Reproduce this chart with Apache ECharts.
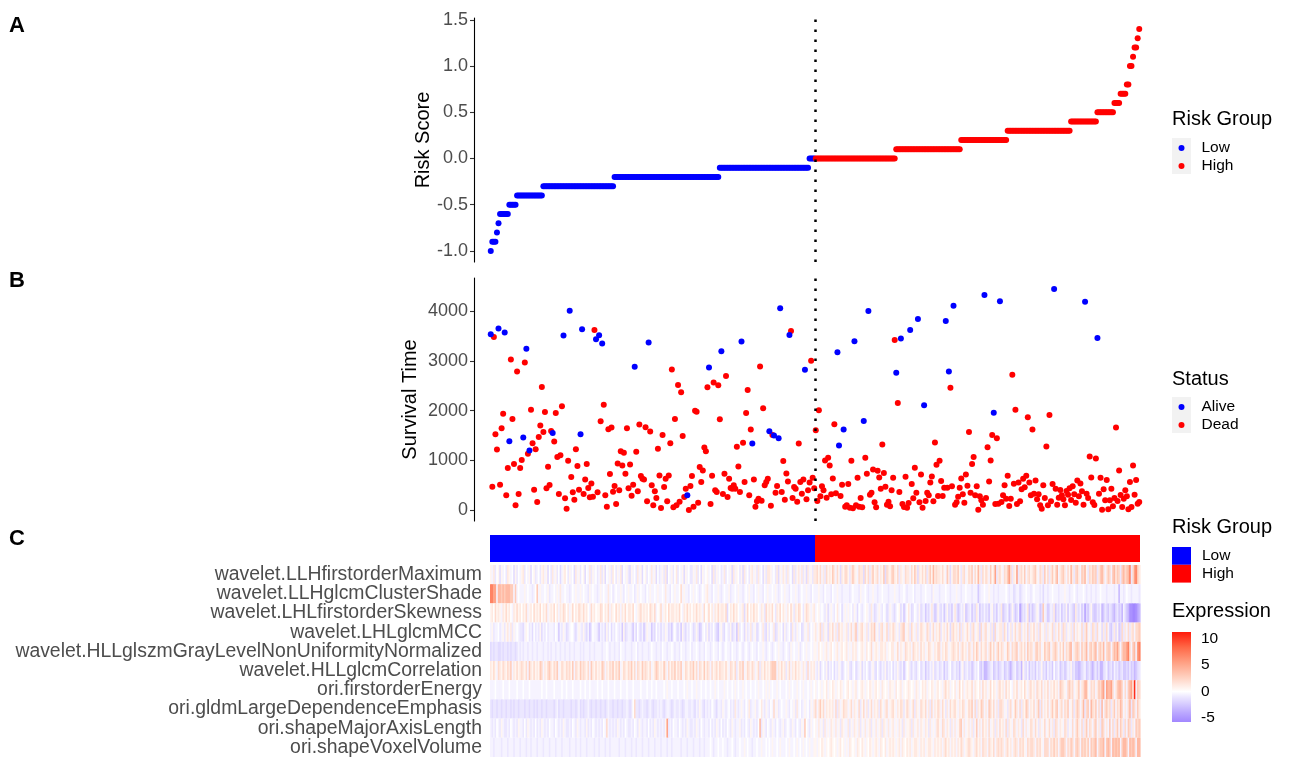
<!DOCTYPE html>
<html>
<head>
<meta charset="utf-8">
<title>Risk score / survival / feature heatmap</title>
<script src="https://cdn.jsdelivr.net/npm/echarts@6/dist/echarts.min.js"></script>
<style>
  html, body { margin: 0; padding: 0; background: #fff; }
  #chart { width: 1290px; height: 758px; }
</style>
</head>
<body>
<div id="chart"></div>
<script>
// ---- data ----

// risk score is stepped: each level and how many patients sit on it (sorted ascending)
const riskLevels = [-1.0, -0.9, -0.8, -0.7, -0.6, -0.5, -0.4, -0.3, -0.2, -0.1, 0.0, 0.1, 0.2, 0.3, 0.4, 0.5, 0.6, 0.7, 0.8, 1.0, 1.1, 1.2, 1.3, 1.4];
const riskCounts = [1, 3, 1, 1, 6, 5, 17, 46, 68, 58, 56, 42, 30, 41, 17, 11, 4, 4, 2, 2, 1, 2, 1, 1];
const nLow = 210; // first 210 patients are the Low group

// survival time per patient (same order as risk score)
const survTime = [
  3533, 473, 3480, 1527, 1220, 3647, 513, 1647, 1940, 3567,
  300, 847, 1387, 3027, 1833, 927, 100, 2787, 327, 847,
  1007, 1460, 2967, 3240, 1133, 1200, 2020, 1347, 413, 1227,
  167, 1473, 1700, 2473, 1573, 1973, 440, 873, 507, 1593,
  1553, 1380, 1953, 1067, 327, 1107, 2087, 3507, 240, 33,
  993, 4007, 667, 360, 213, 1227, 887, 413, 1527, 3633,
  327, 620, 927, 447, 260, 540, 273, 3620, 3433, 360,
  3513, 1787, 3347, 2120, 300, 73, 1627, 727, 1660, 373,
  487, 127, 940, 400, 1187, 900, 1153, 733, 1647, 440,
  920, 293, 513, 2880, 1173, 380, 1720, 687, 633, 620,
  1667, 180, 3367, 1580, 500, 100, 380, 247, 1233, 700,
  47, 1513, 467, 633, 180, 700, 1347, 2827, 60, 1833,
  100, 2513, 173, 2367, 1493, 267, 433, 300, 7, 487,
  687, 73, 2000, 1980, 153, 867, 567, 800, 1260, 1187,
  2467, 2867, 127, 693, 2567, 400, 367, 2507, 1827, 3193,
  327, 733, 2693, 267, 633, 447, 433, 500, 433, 1273,
  880, 367, 3387, 1353, 567, 1953, 2413, 300, 1620, 1340,
  620, 73, 180, 233, 2887, 193, 2047, 500, 567, 633,
  1587, 93, 1513, 1500, 353, 487, 1447, 4053, 367, 987,
  213, 740, 580, 3520, 3600, 247, 467, 433, 173, 1340,
  567, 333, 620, 2820, 220, 400, 560, 3000, 653, 440,
  1607, 187, 2007, 280, 480, 400, 1000, 253, 1053, 900,
  320, 640, 1727, 340, 3173, 1300, 287, 513, 1620, 73,
  100, 527, 53, 993, 40, 3393, 100, 653, 73, 247,
  60, 1793, 1053, 733, 4000, 313, 353, 820, 160, 60,
  793, 660, 433, 1320, 747, 473, 113, 173, 80, 400,
  653, 3420, 2760, 2153, 367, 3447, 127, 67, 673, 53,
  147, 3620, 527, 240, 853, 353, 3840, 160, 720, 53,
  2107, 187, 353, 300, 560, 680, 180, 1360, 913, 287,
  993, 587, 287, 453, 3800, 453, 2787, 2460, 480, 4107,
  113, 160, 273, 453, 640, 320, 153, 720, 493, 1573,
  353, 927, 1067, 300, 480, 13, 280, 200, 113, 4320,
  247, 1267, 580, 1000, 1513, 1960, 127, 1447, 133, 4193,
  167, 300, 500, 233, 693, 87, 233, 2720, 533, 2020,
  127, 560, 180, 420, 633, 460, 693, 1867, 560, 300,
  1620, 333, 600, 220, 320, 100, 33, 500, 247, 1280,
  100, 1913, 180, 527, 4440, 433, 113, 250, 407, 300,
  220, 100, 387, 313, 440, 207, 480, 320, 153, 600,
  280, 540, 380, 113, 4187, 333, 247, 1080, 660, 160,
  107, 1040, 3460, 333, 653, 13, 420, 200, 607, 20,
  200, 433, 80, 247, 1660, 187, 800, 307, 67, 233,
  400, 280, 20, 567, 67, 900, 313, 607, 133, 167
];

// patients still alive (blue in panel B); everyone else is dead
const aliveIdx = [0, 5, 9, 12, 21, 23, 25, 40, 47, 51, 58, 59, 68, 70, 72, 93, 102, 127, 141, 149,
  162, 169, 180, 183, 186, 187, 193, 203, 224, 225, 228, 235, 241, 244, 262, 265, 271, 276, 280,
  294, 296, 299, 319, 325, 329, 364, 384, 392];

const featureNames = [
  'wavelet.LLHfirstorderMaximum',
  'wavelet.LLHglcmClusterShade',
  'wavelet.LHLfirstorderSkewness',
  'wavelet.LHLglcmMCC',
  'wavelet.HLLglszmGrayLevelNonUniformityNormalized',
  'wavelet.HLLglcmCorrelation',
  'ori.firstorderEnergy',
  'ori.gldmLargeDependenceEmphasis',
  'ori.shapeMajorAxisLength',
  'ori.shapeVoxelVolume'
];

// heatmap: one character per patient, looked up in the level table below
const levelCodes  = ['h', 'g', 'f', 'e', 'd', 'c', 'b', 'a', '0', '1', '2', '3', '4', '5', '6', '7', '8', '9'];
const levelValues = [-5.75, -5.2, -4.3, -3.3, -2.4, -1.6, -1.0, -0.5, 0, 0.6, 1.3, 2.1, 3.0, 4.0, 5.3, 7.0, 8.5, 10.5];

const exprRows = [
  // wavelet.LLHfirstorderMaximum
  '1a2b01c1a0 b21a0c1b0a 12b0a1c01b a0b12a1c0b 2a1b0ca120 b1a0c2a1b0 1c0a2b1a0b a2b1c0a1b2 0b1a2c0a1b c1a0b2a1c0 1b0a2a1c0b ' +
  'a1b2c0a1b0 2b0a1c1a0b b1a2b0c1a0 1a0c2b1a0b a2b0a1c2a1 0b1c2a0b12 a1b2a0c1b2 21a0b2c1a2 1b2a0c2b12 a2b1c2a1b2 ' +
  '2313a2b312 142a31c213 31b2421a32 2c313b2412 3a214c3213 4213b21a32 2a3142c213 13b2415232 2131a42c13 3241b23a13 ' +
  '24a3152b31 32a4126b23 1a32463b21 6b2314a231 2341a32b41 3b24135a23 42a3152b34 2a4351b324 34b2453a24 3a45243b45 3457b36742',
  // wavelet.LLHglcmClusterShade
  '7766a55454 55544a4a0a aa1a0aaba0 4a1aa0a1ba a0a1a2aa0a aba0a1aa1a 0aab1a0aab a1a0aa2a0b a0aa1ab0a1 aa0ba1a0aa b0a1aa0a1a ' +
  'a0a2aab0a1 aa03a1aab0 a1a0aba0a1 2aab0aa1ab a0aa1baa0a 1aaba0a1aa b0a1aab0a1 aa0a1aba0a 1aab0aa1ab a0aa1aab0a ' +
  'aa1aab0aaa b0aa1aabaa aaba0aaab1 aa0abaa1aa baa0aaabaa a1aabaa0ab aaa0baaaba a0aaab1aaa baaa0aabaa a1aabaa0aa ' +
  'abaaadbaa0 aa1aabaaba aaa0abaacb aacbaa0aab a0aaabacaa baa0aaabaa a1aabaa0ab aaa0abaaba abaa0aaaba aaabaaeaab a0aabaaaab',
  // wavelet.LHLfirstorderSkewness
  '1203121a21 3120a21312 0213a12031 2130213a12 1302a21320 2a13021321 3120a31201 1320213a21 0312a21302 2130a12312 1203213a01 ' +
  '3a12031221 2130a21312 0213121a30 1302a21312 213c021312 0a12c13021 3120a21b31 2130b21302 1a2031b213 20b1321a12 ' +
  'a01a0ab1ca 1ab02a0ca1 a1a0b1ac0a ba01ab2acb a1ab0acb1a bca01cadb0 2acb0ab1cb adbca2bdc1 bcadb1cbda 2bdcab1dcb ' +
  'adbc2adbca cbda1cbdab 2dcbadc1bd cafdbca2db dcb1adc4ab dcab2dbcad bc1dabcd2b cadbfcdb1c ddbcaedbcd bcdecbdcea cdegghhgfe',
  // wavelet.LHLglcmMCC
  'a1baa0ba1b 12a2b1a0ab bca10bac0b ab1cab0baa ab0adab1ac ba00bca1ab 1bcadb0aab dabac1b0ca b0abad1cba abdac0bcad b1aadbc0ba ' +
  'cab1acbda0 bcad1bcab0 acb1bdca0b 1cab0bcda1 bc0ab1cbad 2b0ac1ba2b a1cb0a2bc1 b0a2cb1a0c 1ba0c2ab1a 0cb1a2b0a1 ' +
  '2a13b2a1c2 13a2b312a1 2b13a24b12 31a2b1324a 1b23a13b21 32a1b234a1 2b31a2b132 1a32b13a21 3b12a31c23 12a3b2a131 ' +
  'b23a12c3a2 3a1b2c3a12 2b31ca2b13 a23b12a3b2 13a2b31a2b 2a13b2a31b 32b1a2b3a2 1a3b24a1b3 2b3a1c2b3a cdb2c1dc3b 2a3b23a334',
  // wavelet.HLLglszmGrayLevelNonUniformityNormalized
  'cbcbbccbcb bcbcbbcbab abaabaabaa baaabaabab aabaabaaba abaabaaaba baaabaabaa aabaa0abaa baab0aabaa abaa0baaba aaba0aabaa ' +
  'b0aabaa0ab aab0aabaa0 baa0abaab0 aaba0aab0a ba0aab0aab a0aba0aba0 aab0aa1aba 0aba0a1aab a0ab1a0aa1 ba0a1aa0a1 ' +
  '1a201a12a1 20a12a1201 2a1a212a01 21a2013a12 1a2212a102 2a13a21a32 12a3212a31 2a1321a213 3a2132a123 213a2312a3 ' +
  '2a3142a312 3a2413a241 32a142a323 4a2313a423 2a3423a142 34a2342a31 4a3245a234 3a4235a342 45a3425a34 4a35463a45 5673a45a67',
  // wavelet.HLLglcmCorrelation
  '2131a32132 1324a21312 3213a42131 2143a21342 1324a13213 2314a32142 3213a42131 2143a21324 1324a13213 2413a32142 3213a12431 ' +
  '2142a31324 1324a13213 2413a32141 32a3123132 2131a3213b 1324a13213 2a13b21312 13444a2131 2b13a21312 1a21b3a212 ' +
  'ab1ca0b1ca b0cab1acb0 a1bca0cba1 cab0bca1bc 0bcab1cab0 cab1bcadb0 1bcabca0cb adbcab1cba cbadbca0cb acbda1cbac ' +
  'bdcab0cdbe edcbadcbdc badcbdecba dcbe1bcadb cbdacb1cbd acbd0cbadc bdcab1cbdd edcbadcbde cbdbeecbad cbdacbdcbd dcdbdcedcb',
  // ori.firstorderEnergy
  'aaa0aaaa0a aa0aaaa0aa a0aaa0aaaa aaa0aa0aaa a0aaaa0aa0 aaa0aaaa0a a0aa0aaaa0 aa0aaa0aaa 0aaa0aaa0a aa0aaaa0aa a0aa0aa0aa ' +
  'aa0a1aa0aa a0aaa0a1aa 0aa1aa0aa0 aa0aa1a0aa a1a0aa0a1a 0aa1a0aa0a a0a1aa0a1a 1a0aa1a0aa a0a1a0aa1a 0a1aa0a1a0 ' +
  '1a01a102a1 021a1021a0 1201a12a01 21a1021a12 01a2101a21 1a2012a101 2101a21a02 12a1021a12 01a2312a10 2a1302a121 ' +
  '13a2102a31 2a13021a23 12a3120a21 3a12031a23 12a3213a21 3a21312a43 21a3423a12 4a23551a32 3a24356a65 563a24553a 3a45629a43',
  // ori.gldmLargeDependenceEmphasis
  'bcbbcbbcbb cbbcbcbbcb bbcbbcbbcb cbbcbbcbbb bcbacbbcbb bbcbbcbacb cbbabcbbcb bcbbcbabbc bbcbbcbbab cb03bbcbab bcbabcbbab ' +
  'abcbaabcba bbabcbaabb abcab1abca bab0abcaab 1aba0bab2a ba1ab0a2ba a1ba02ab1a b0a3a1ba0a a1ab0a1b2a 0ba1a0b1a2 ' +
  '3a2413a212 12a3b2a132 2a13a21a3b 13a2b13a21 2b31a23a12 31a2132b13 2a13b21a32 13a2b3a213 2a31b2a312 31a2132a13 ' +
  '24a3b2143a 2a4313a2b3 32a1b23a14 2a3b2143a2 13a24b3a21 3a24134a23 a324a13b24 3a25b34a53 24a3b5a342 3b24a3253a 2a35b43a42',
  // ori.shapeMajorAxisLength
  'abab0ab1ab bab0abab1a ab0b1abab0 bab1abab0a ab0abab1ab bab0ab1aba ab1bab0aba bab0a3abab ab1abab0ab bab0ab1aba ab0bab1aba ' +
  'bab16bab0a ab0abab1ab bab1ab0aba ab0bab1ab0 bab0ab1aba a1bab0ab1a bab05b1ab0 ab1ab0aba1 ba0ab1ab0a b1a40ab1a0 ' +
  '1a2a1b2a1a 21a2a1b21a a2b1a21a2b 1a2a12b1a2 a12b21a2a1 2a1a21b2a1 12b2a12a21 a21b2a1a23 1a32a21b2a 2a134a2a12 ' +
  'a2b14a2a31 2a3a12b2a3 12a3b21a32 a21b3a2a13 2a31b2a13a 13a2b32a21 a32b1a3a24 2a3b24a32a 34a2b43a2a 4a3b24a42b 3a43b2a434',
  // ori.shapeVoxelVolume
  'aabaaaabaa abaaabaaab aaabaabaaa baaabaaaba aabaaabaaa abaaabaaba aabaaaabaa baaabaabaa aaabaaabaa abaabaaaba aabaaabaaa ' +
  'baaabaabaa aaabaaabaa abaaabaaba aa0abaa0aa 0aabaa0aba a0aa1a0aab aa0aa1aa0a 0a1aa0a1aa a0a1aa0a1a 0a1a0a1aa1 ' +
  '1a1021a101 2101a1201a 1a2101a210 21a1021a12 1a2102a121 21a12a2102 12a1221a21 2a1221a212 12a2312a21 2a2132a123 ' +
  '21a2312a32 2a3213a232 32a2312a23 2a3231a323 32a3231a33 3a32423a34 43a3243a34 3a43424a43 45a3445a45 4a54545a45 54a5454a55'
];

// tick labels
const riskTicks = [-1.0, -0.5, 0.0, 0.5, 1.0, 1.5];
const survTicks = [0, 1000, 2000, 3000, 4000];
const exprTicks = [-5, 0, 5, 10];

// ---- styling ----
const BLUE = '#0000ff';
const RED = '#ff0000';
const FONT = '"Liberation Sans", Arial, sans-serif';
const AXIS_GREY = '#4d4d4d';
const exprMin = -5.75;
const exprMax = 11.25;
const exprStops = [
  [-5.75, '#a287ff'], [-4, '#bba8ff'], [-2, '#dcd3ff'], [-1, '#ece7ff'], [0, '#ffffff'],
  [1, '#ffeee8'], [2.8, '#ffcfbe'], [5.6, '#ff9e81'], [8.4, '#ff6746'], [11.25, '#ff1a0a']
];

// ---- derived ----
const riskScore = [];
riskLevels.forEach((lv, k) => { for (let j = 0; j < riskCounts[k]; j++) riskScore.push(lv); });
const N = riskScore.length;

const lowPts = [], highPts = [];
riskScore.forEach((v, i) => (i < nLow ? lowPts : highPts).push([i, v]));

const aliveSet = new Set(aliveIdx);
const alivePts = [], deadPts = [];
survTime.forEach((t, i) => (aliveSet.has(i) ? alivePts : deadPts).push([i, t]));

const levelOf = {};
levelCodes.forEach((c, k) => { levelOf[c] = levelValues[k]; });

const heatData = [];
exprRows.forEach((row, r) => {
  const s = row.replace(/\s+/g, '');
  if (s.length !== N) console.warn('row', r, 'has', s.length, 'cells');
  for (let i = 0; i < N; i++) heatData.push([i, r, levelOf[s[i]] ?? 0]);
});

// group bar as two runs of patients: [first, last, group]
const groupRuns = [[0, nLow - 1, 0], [nLow, N - 1, 1]];

const hexToRgb = (h) => [parseInt(h.slice(1, 3), 16), parseInt(h.slice(3, 5), 16), parseInt(h.slice(5, 7), 16)];
const stopRgb = exprStops.map(([v, c]) => [v, hexToRgb(c)]);

function exprColor(v) {
  if (v <= stopRgb[0][0]) return exprStops[0][1];
  for (let k = 1; k < stopRgb.length; k++) {
    const [v1, c1] = stopRgb[k];
    if (v <= v1) {
      const [v0, c0] = stopRgb[k - 1];
      const t = (v - v0) / (v1 - v0);
      const c = c0.map((x, j) => Math.round(x + (c1[j] - x) * t));
      return `rgb(${c[0]},${c[1]},${c[2]})`;
    }
  }
  return exprStops[exprStops.length - 1][1];
}

const yAxisCommon = {
  type: 'value',
  offset: 16,
  splitLine: { show: false },
  axisLine: { show: true, onZero: false, lineStyle: { color: '#000', width: 1.1 } },
  axisTick: { show: true, length: 4, lineStyle: { color: '#333', width: 1.1 } },
  axisLabel: { color: AXIS_GREY, fontSize: 18, fontFamily: FONT, margin: 6 },
  nameLocation: 'middle',
  nameRotate: 90,
  nameMoveOverlap: false,
  nameTextStyle: { color: '#000', fontSize: 20, fontFamily: FONT }
};

const hiddenX = (gridIndex) => ({ type: 'value', gridIndex, min: -0.5, max: N - 0.5, show: false });

const cutLine = {
  silent: true,
  symbol: ['none', 'none'],
  label: { show: false },
  emphasis: { disabled: true },
  lineStyle: { color: '#000', type: [2.5, 7.5], width: 2.5, opacity: 1 },
  data: [{ xAxis: nLow - 0.5 }]
};

const dot = (color) => ({ color, opacity: 1 });

const legendText = { color: '#000', fontSize: 15.5, fontFamily: FONT, lineHeight: 18, padding: [0, 0, 0, 12] };
const titleStyle = { color: '#000', fontSize: 20, fontWeight: 'normal', fontFamily: FONT };
const letterStyle = { color: '#000', fontSize: 22, fontWeight: 'bold', fontFamily: FONT };

const chart = echarts.init(document.getElementById('chart'), null, { renderer: 'canvas' });

chart.setOption({
  animation: false,
  backgroundColor: '#fff',
  textStyle: { fontFamily: FONT },
  title: [
    { text: 'A', left: 4, top: 10, textStyle: letterStyle },
    { text: 'B', left: 4, top: 265, textStyle: letterStyle },
    { text: 'C', left: 4, top: 523, textStyle: letterStyle },
    { text: 'Risk Group', left: 1167, top: 104, textStyle: titleStyle },
    { text: 'Status', left: 1167, top: 364, textStyle: titleStyle },
    { text: 'Risk Group', left: 1167, top: 512, textStyle: titleStyle },
    { text: 'Expression', left: 1167, top: 596, textStyle: titleStyle }
  ],
  legend: [
    { data: ['Low', 'High'], orient: 'vertical', left: 1178.5, top: 139, padding: 0, icon: 'circle', itemWidth: 6, itemHeight: 6, itemGap: 0, selectedMode: false, textStyle: legendText },
    { data: ['Alive', 'Dead'], orient: 'vertical', left: 1178.5, top: 398, padding: 0, icon: 'circle', itemWidth: 6, itemHeight: 6, itemGap: 0, selectedMode: false, textStyle: legendText },
    { data: ['Low', 'High'], orient: 'vertical', left: 1172, top: 547, padding: 0, icon: 'rect', itemWidth: 19, itemHeight: 17.8, itemGap: 0, selectedMode: false,
      textStyle: { color: '#000', fontSize: 15.5, fontFamily: FONT, lineHeight: 17.8, padding: [0, 0, 0, 6] } }
  ],
  graphic: [
    { type: 'rect', left: 1172, top: 138, z: -1, shape: { width: 19, height: 36 }, style: { fill: '#f2f2f2' } },
    { type: 'rect', left: 1172, top: 397, z: -1, shape: { width: 19, height: 36 }, style: { fill: '#f2f2f2' } }
  ],
  grid: [
    { left: 490, top: 18, width: 650, height: 244 },   // A: risk score
    { left: 490, top: 278, width: 650, height: 243 },  // B: survival time
    { left: 490, top: 535, width: 650, height: 27 },   // C: risk group bar
    { left: 490, top: 565, width: 650, height: 192 },  // C: heatmap
    { left: 1172, top: 632, width: 19, height: 90 }    // colour bar
  ],
  xAxis: [hiddenX(0), hiddenX(1), hiddenX(2), hiddenX(3), { type: 'value', gridIndex: 4, min: 0, max: 1, show: false }],
  yAxis: [
    Object.assign({}, yAxisCommon, {
      gridIndex: 0, min: -1.12, max: 1.52, name: 'Risk Score', nameGap: 41,
      axisLabel: Object.assign({}, yAxisCommon.axisLabel, { customValues: riskTicks, formatter: (v) => v.toFixed(1) }),
      axisTick: Object.assign({}, yAxisCommon.axisTick, { customValues: riskTicks })
    }),
    Object.assign({}, yAxisCommon, {
      gridIndex: 1, min: -215, max: 4662, name: 'Survival Time', nameGap: 54,
      axisLabel: Object.assign({}, yAxisCommon.axisLabel, { customValues: survTicks, formatter: (v) => String(v) }),
      axisTick: Object.assign({}, yAxisCommon.axisTick, { customValues: survTicks })
    }),
    { type: 'value', gridIndex: 2, min: 0, max: 1, show: false },
    {
      type: 'category', gridIndex: 3, data: featureNames, inverse: true,
      axisLine: { show: false }, axisTick: { show: false }, splitLine: { show: false },
      axisLabel: { interval: 0, color: AXIS_GREY, fontSize: 19.4, fontFamily: FONT, margin: 8 }
    },
    {
      type: 'value', gridIndex: 4, position: 'right', min: exprMin, max: exprMax,
      splitLine: { show: false }, axisLine: { show: false },
      axisTick: { show: true, inside: true, length: 4, customValues: exprTicks, lineStyle: { color: '#fff', width: 1 } },
      axisLabel: { color: '#000', fontSize: 15.5, fontFamily: FONT, margin: 10, customValues: exprTicks }
    }
  ],
  series: [
    { name: 'Low', type: 'scatter', xAxisIndex: 0, yAxisIndex: 0, data: lowPts, symbolSize: 6, itemStyle: dot(BLUE), markLine: cutLine },
    { name: 'High', type: 'scatter', xAxisIndex: 0, yAxisIndex: 0, data: highPts, symbolSize: 6, itemStyle: dot(RED) },
    { name: 'Dead', type: 'scatter', xAxisIndex: 1, yAxisIndex: 1, data: deadPts, symbolSize: 6, itemStyle: dot(RED), markLine: cutLine },
    { name: 'Alive', type: 'scatter', xAxisIndex: 1, yAxisIndex: 1, data: alivePts, symbolSize: 6, itemStyle: dot(BLUE) },
    {
      type: 'custom', xAxisIndex: 2, yAxisIndex: 2, data: groupRuns, silent: true,
      encode: { x: [0, 1] },
      renderItem: (params, api) => {
        const a = api.coord([api.value(0) - 0.5, 0]);
        const b = api.coord([api.value(1) + 0.5, 1]);
        const cs = params.coordSys;
        return {
          type: 'rect',
          shape: { x: a[0], y: cs.y, width: b[0] - a[0], height: cs.height },
          style: { fill: api.value(2) ? RED : BLUE }
        };
      }
    },
    {
      type: 'custom', xAxisIndex: 3, yAxisIndex: 3, data: heatData, silent: true,
      encode: { x: 0, y: 1 },
      renderItem: (params, api) => {
        const c = api.coord([api.value(0), api.value(1)]);
        const sz = api.size([1, 1]);
        return {
          type: 'rect',
          shape: { x: c[0] - sz[0] / 2, y: c[1] - sz[1] / 2, width: sz[0] + 0.6, height: sz[1] },
          style: { fill: exprColor(api.value(2)) }
        };
      }
    },
    {
      type: 'custom', xAxisIndex: 4, yAxisIndex: 4, data: [[0, exprMin, exprMax]], silent: true,
      encode: { x: 0, y: [1, 2] },
      renderItem: (params, api) => {
        const bottom = api.coord([0, api.value(1)]);
        const top = api.coord([1, api.value(2)]);
        const span = exprMax - exprMin;
        const stops = exprStops.slice().reverse().map(([v, c]) => ({ offset: (exprMax - v) / span, color: c }));
        return {
          type: 'rect',
          shape: { x: bottom[0], y: top[1], width: top[0] - bottom[0], height: bottom[1] - top[1] },
          style: { fill: new echarts.graphic.LinearGradient(0, 0, 0, 1, stops) }
        };
      }
    }
  ]
});

window.addEventListener('resize', () => chart.resize());
</script>
</body>
</html>
